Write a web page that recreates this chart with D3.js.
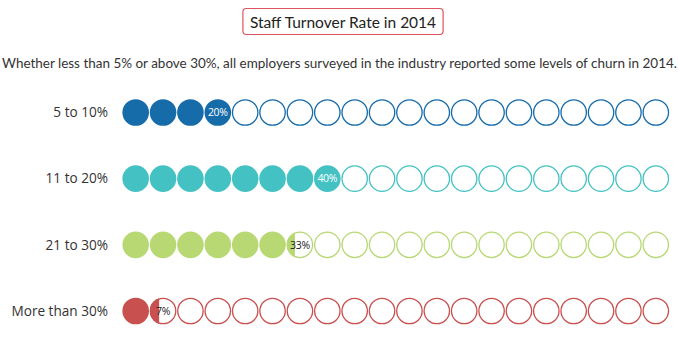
<!DOCTYPE html>
<html><head><meta charset="utf-8">
<script src="https://cdn.jsdelivr.net/npm/d3@7"></script>
<style>body{margin:0;background:#fff}</style>
</head><body><svg id="c" width="679" height="364"></svg>
<script>
const categories = ["5 to 10%", "11 to 20%", "21 to 30%", "More than 30%"];
const values = [20, 40, 33, 7];
const labels = ["20%", "40%", "33%", "7%"];
const partialFill = [0, 0, 0.33, 0.37];
const colors = ["#166ba9", "#44c2c3", "#b8d874", "#c8504f"];
const title = "Staff Turnover Rate in 2014";
const subtitle = "Whether less than 5% or above 30%, all employers surveyed in the industry reported some levels of churn in 2014.";
const nUnits = 20;

const svg = d3.select("#c");
const W = 679;
// title
const tt = svg.append("text").attr("x", 343).attr("y", 27.5).attr("text-anchor", "middle")
  .style("font-family", "Lato").style("font-size", "15.5px").attr("fill", "#222").text(title);
const bb = tt.node().getBBox();
svg.insert("rect", "text").attr("x", bb.x - 7).attr("y", 8.5).attr("width", bb.width + 14).attr("height", 26)
  .attr("rx", 3.5).attr("fill", "#fff").attr("stroke", "#e0525e").attr("stroke-width", 1.2);
const st = svg.append("text").attr("x", W/2).attr("y", 68).attr("text-anchor", "middle")
  .style("font-family", "Lato").style("font-size", "13.5px").attr("fill", "#333").text(subtitle);
const sw = st.node().getComputedTextLength();
if (sw > 0) st.attr("textLength", 675).attr("lengthAdjust", "spacingAndGlyphs");

const x = d3.scaleBand().domain(d3.range(nUnits)).range([122, 669.5]).paddingInner(0.06).paddingOuter(0.03);
const y = d3.scalePoint().domain(categories).range([112.5, 311]);
const r = 12.7;
const defs = svg.append("defs");

categories.forEach((cat, i) => {
  const g = svg.append("g");
  const cy = y(cat);
  g.append("text").attr("x", 108).attr("y", cy).attr("dy", "0.35em").attr("text-anchor", "end")
    .style("font-family", "Open Sans").style("font-size", "13.6px").attr("fill", "#333").text(cat);
  const units = values[i] / 100 * nUnits;
  const full = Math.floor(units + 1e-9);
  d3.range(nUnits).forEach(j => {
    const cx = x(j) + x.bandwidth() / 2;
    if (j < full) {
      g.append("circle").attr("cx", cx).attr("cy", cy).attr("r", r + 0.6).attr("fill", colors[i]);
    } else {
      g.append("circle").attr("cx", cx).attr("cy", cy).attr("r", r).attr("fill", "#fff")
        .attr("stroke", colors[i]).attr("stroke-width", 1.3);
      if (j === full && partialFill[i] > 0) {
        const id = "clip" + i;
        defs.append("clipPath").attr("id", id).append("rect")
          .attr("x", cx - r - 1).attr("y", cy - r - 1).attr("width", (2 * r + 1) * partialFill[i]).attr("height", 2 * r + 2);
        g.append("circle").attr("cx", cx).attr("cy", cy).attr("r", r + 0.6).attr("fill", colors[i])
          .attr("clip-path", `url(#${id})`);
      }
    }
  });
  const lastIdx = partialFill[i] > 0 ? full : full - 1;
  const lx = x(lastIdx) + x.bandwidth() / 2;
  g.append("text").attr("x", lx).attr("y", cy).attr("dy", "0.36em").attr("text-anchor", "middle")
    .style("font-family", "Open Sans").style("font-size", "10.5px").style("letter-spacing", "-0.3px")
    .attr("fill", partialFill[i] > 0 ? "#222" : "#fff").text(labels[i]);
});
</script></body></html>
